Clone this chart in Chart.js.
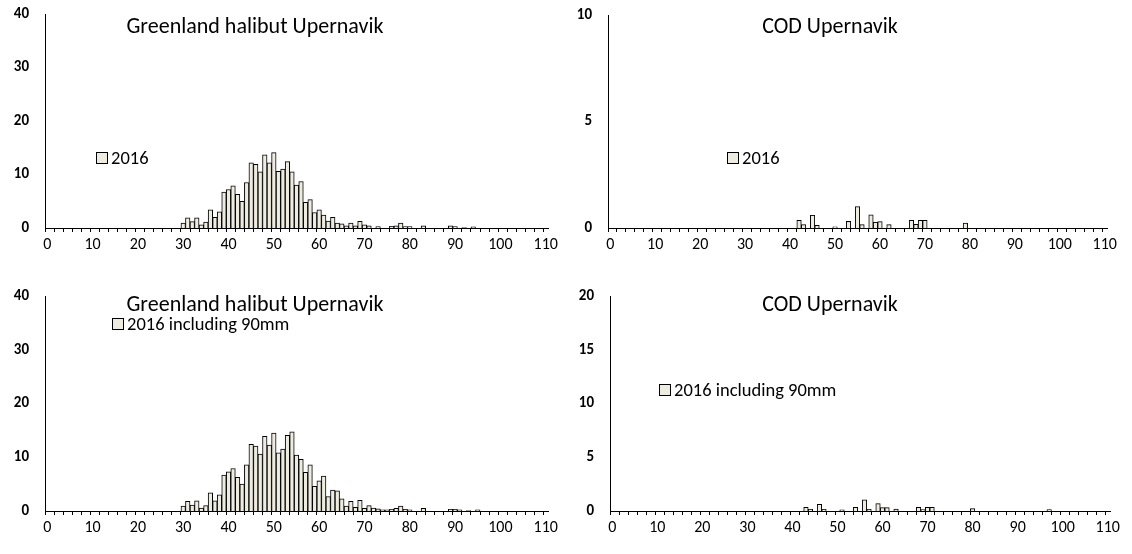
<!DOCTYPE html>
<html><head><meta charset="utf-8">
<script src="https://cdn.jsdelivr.net/npm/chart.js@4"></script>
<style>
html,body{margin:0;padding:0;background:#fff;width:1132px;height:554px;overflow:hidden}
canvas{position:absolute}
</style></head><body>
<canvas id="c1" width="566" height="277" style="left:0;top:0"></canvas>
<canvas id="c2" width="566" height="277" style="left:566px;top:0"></canvas>
<canvas id="c3" width="566" height="277" style="left:0;top:277px"></canvas>
<canvas id="c4" width="566" height="277" style="left:566px;top:277px"></canvas>
<script>
// Length classes (category axis 0..110)
const lengthLabels = Array.from({length:111},(_,i)=>String(i));

// Greenland halibut Upernavik, 2016
const ghl2016Len = [30,31,32,33,34,35,36,37,38,39,40,41,42,43,44,45,46,47,48,49,50,51,52,53,54,55,56,57,58,59,60,61,62,63,64,65,66,67,68,69,70,71,73,76,77,78,79,80,83,89,90,92,94];
const ghl2016Val = [0.9,1.9,1.2,1.9,0.6,1.1,3.4,2.0,3.0,6.7,7.2,7.9,6.3,5.0,8.5,12.2,11.9,10.5,13.7,12.2,14.1,10.6,11.0,12.4,10.5,8.0,8.7,4.8,5.3,2.9,3.4,2.4,1.3,2.0,0.9,0.8,0.4,0.9,0.4,1.25,0.6,0.4,0.25,0.3,0.4,0.9,0.25,0.25,0.4,0.4,0.25,0.1,0.2];

// Greenland halibut Upernavik, 2016 including 90mm
const ghl90Len = [30,31,32,33,34,35,36,37,38,39,40,41,42,43,44,45,46,47,48,49,50,51,52,53,54,55,56,57,58,59,60,61,62,63,64,65,66,67,68,69,70,71,72,73,74,75,76,77,78,79,80,83,89,90,91,93,95];
const ghl90Val = [0.9,1.8,1.1,1.9,0.56,1.0,3.4,1.9,3.0,6.7,7.3,7.9,6.25,5.0,8.6,12.4,12.1,10.6,13.9,12.25,14.5,10.8,11.5,14.1,14.75,10.4,9.6,7.2,8.6,4.6,5.6,6.5,2.7,3.9,3.75,2.25,0.9,1.8,0.7,2.0,0.5,1.0,0.56,0.4,0.2,0.2,0.3,0.5,0.9,0.3,0.2,0.5,0.3,0.3,0.2,0.1,0.2];

// COD Upernavik, 2016
const cod2016Len = [42,43,45,46,50,53,55,56,58,59,60,62,67,68,69,70,79];
const cod2016Val = [0.36,0.16,0.6,0.13,0.06,0.31,1.0,0.16,0.62,0.27,0.3,0.16,0.36,0.17,0.36,0.36,0.23];

// COD Upernavik, 2016 including 90mm
const cod90Len = [43,44,46,47,51,54,56,57,59,60,61,63,68,69,70,71,80,97];
const cod90Val = [0.34,0.16,0.62,0.16,0.1,0.34,1.03,0.16,0.69,0.31,0.31,0.17,0.34,0.13,0.34,0.34,0.22,0.13];

const FONT = 'Carlito, Lato, sans-serif';
const BAR_FILL = '#EEECE1';

const overlay = {
  id:'overlay',
  afterDraw(chart, args, o){
    const ctx = chart.ctx;
    ctx.save();
    ctx.fillStyle = '#000';
    ctx.font = '22px ' + FONT;
    ctx.textAlign = 'center';
    ctx.textBaseline = 'middle';
    ctx.fillText(o.title, o.tx, o.ty);
    ctx.fillStyle = BAR_FILL;
    ctx.strokeStyle = '#000';
    ctx.lineWidth = 1;
    ctx.fillRect(o.lx + 0.5, o.ly - 5.5, 11, 11);
    ctx.strokeRect(o.lx + 0.5, o.ly - 5.5, 11, 11);
    ctx.fillStyle = '#000';
    ctx.font = '18.5px ' + FONT;
    ctx.textAlign = 'left';
    ctx.fillText(o.legend, o.lx + 15, o.ly + 1);
    ctx.restore();
  }
};

function makeChart(id, lens, vals, yMax, yStep, p){
  const data = lens.map((l,i)=>({x:String(l), y:vals[i]}));
  return new Chart(document.getElementById(id), {
    type:'bar',
    data:{labels:lengthLabels, datasets:[{data, backgroundColor:BAR_FILL, borderColor:'#000', borderWidth:1, barPercentage:1, categoryPercentage:1}]},
    options:{
      responsive:false, animation:false, events:[],
      layout:{padding:{top:p.top, right:p.right, left:0, bottom:0}},
      plugins:{legend:{display:false}, tooltip:{enabled:false}, overlay:p.ov},
      scales:{
        x:{type:'category', offset:true,
          grid:{display:true, drawOnChartArea:false, drawTicks:true, tickLength:4, offset:true, lineWidth:1,
            color:(c)=> (c.index % 2 === 0 ? '#000' : 'rgba(0,0,0,0)')},
          border:{display:true, color:'#000', width:1},
          ticks:{autoSkip:false, maxRotation:0, minRotation:0, padding:3, color:'#000', font:{family:FONT, size:16},
            callback:(v,i)=> (i % 10 === 0 ? lengthLabels[i] : '')},
          afterFit(s){ s.height = p.xh; s.paddingLeft = 0; s.paddingRight = 0; }
        },
        y:{min:0, max:yMax,
          ticks:{stepSize:yStep, color:'#000', padding:16, font:{family:FONT, size:15, weight:'bold'}},
          grid:{display:false, drawTicks:false},
          border:{display:true, color:'#000', width:1},
          afterFit(s){ s.width = p.yw; s.paddingTop = 0; s.paddingBottom = 0; }
        }
      }
    },
    plugins:[overlay]
  });
}

makeChart('c1', ghl2016Len, ghl2016Val, 40, 10,
  {top:14, right:18, xh:49, yw:45, ov:{title:'Greenland halibut Upernavik', tx:255, ty:27, legend:'2016', lx:96, ly:158}});
makeChart('c2', cod2016Len, cod2016Val, 10, 5,
  {top:15, right:25, xh:49, yw:42, ov:{title:'COD Upernavik', tx:264, ty:27, legend:'2016', lx:161, ly:158}});
makeChart('c3', ghl90Len, ghl90Val, 40, 10,
  {top:19, right:18, xh:43, yw:45, ov:{title:'Greenland halibut Upernavik', tx:255, ty:28, legend:'2016 including 90mm', lx:112, ly:47}});
makeChart('c4', cod90Len, cod90Val, 20, 5,
  {top:19, right:22, xh:43, yw:44, ov:{title:'COD Upernavik', tx:264, ty:28, legend:'2016 including 90mm', lx:93, ly:113}});
</script>
</body></html>
